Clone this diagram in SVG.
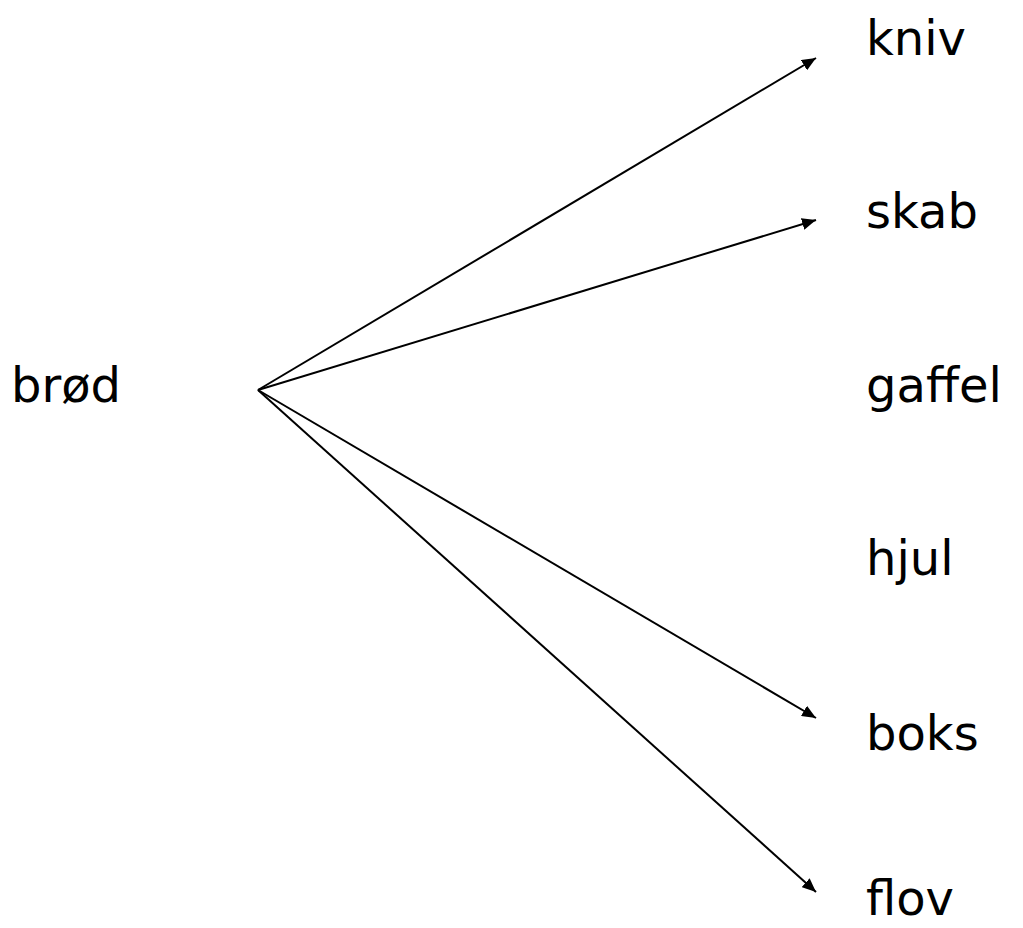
<svg xmlns="http://www.w3.org/2000/svg" width="1023" height="928" viewBox="0 0 1023 928">
<defs>
<marker id="ah" viewBox="0 0 14 12" refX="14" refY="6" markerWidth="14" markerHeight="12" markerUnits="userSpaceOnUse" orient="auto">
<path d="M0,0 L14,6 L0,12 z" fill="#000"/>
</marker>
<style>
text{font-family:"Comic Sans MS","DejaVu Sans",sans-serif;font-size:48px;fill:#000}
line{stroke:#000;stroke-width:2;marker-end:url(#ah)}
</style>
</defs>
<rect width="1023" height="928" fill="#fff"/>
<g id="connectors">
<line x1="258" y1="390" x2="816" y2="58"/>
<line x1="258" y1="390" x2="816" y2="220"/>
<line x1="258" y1="390" x2="816" y2="718"/>
<line x1="258" y1="390" x2="816" y2="892"/>
</g>
<g id="brod"><text x="11" y="402">brød</text></g>
<g id="kniv"><text x="866" y="55">kniv</text></g>
<g id="skab"><text x="866" y="228">skab</text></g>
<g id="gaffel"><text x="866" y="402">gaffel</text></g>
<g id="hjul"><text x="866" y="575">hjul</text></g>
<g id="boks"><text x="866" y="750">boks</text></g>
<g id="flov"><text x="866" y="915">flov</text></g>
</svg>
